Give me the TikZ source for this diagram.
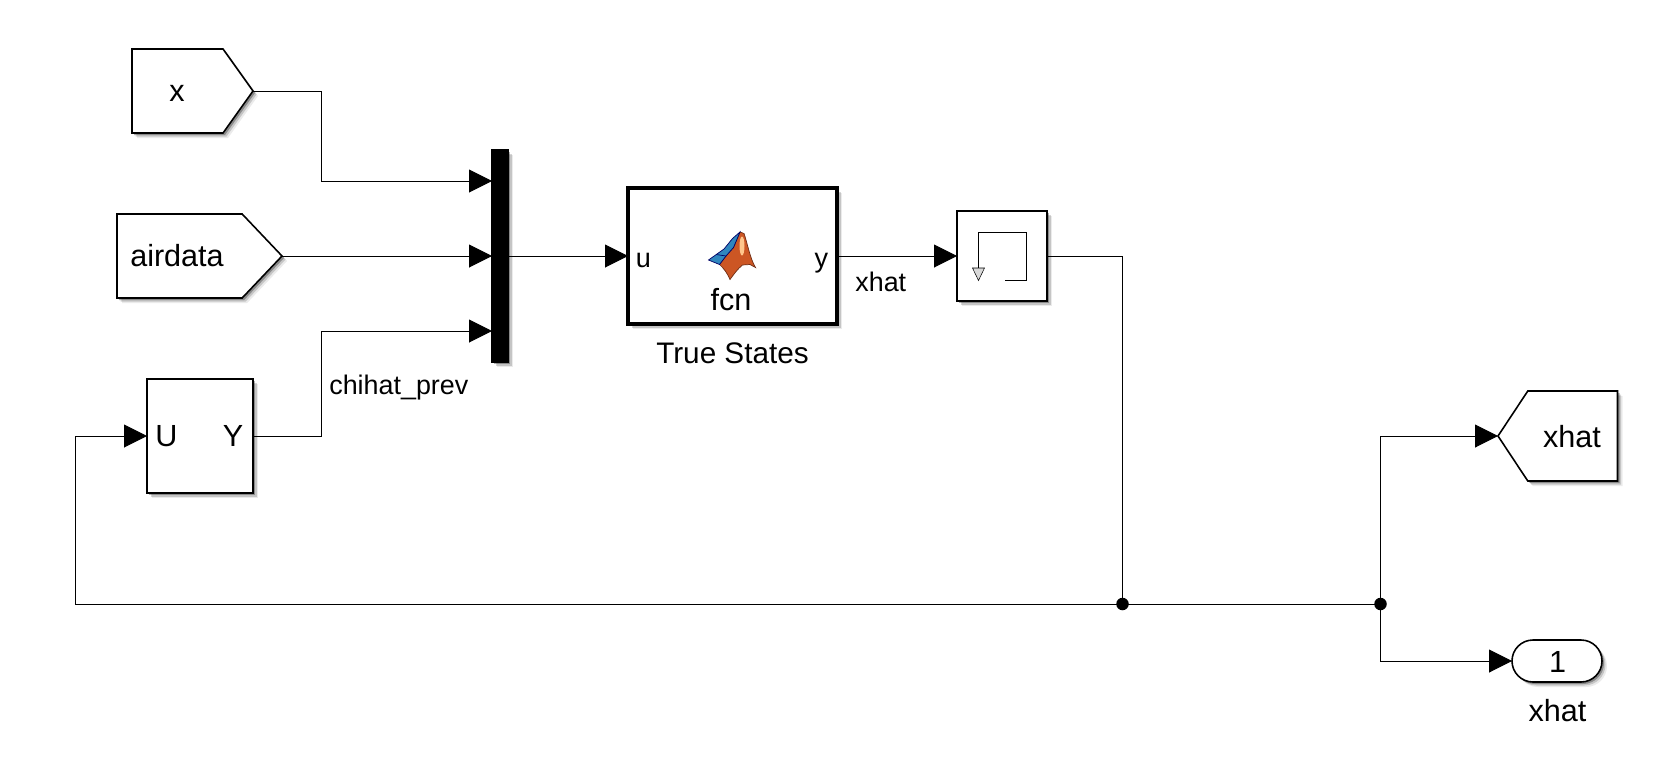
\documentclass[tikz,border=0pt]{standalone}
\usepackage{fontspec}
\setmainfont{Liberation Sans}
\usetikzlibrary{arrows.meta}
\usetikzlibrary{shadows}
\usetikzlibrary{shapes.symbols}
\usetikzlibrary{shapes.misc}

\definecolor{logoblue}{RGB}{48,134,190}
\definecolor{logoorange}{RGB}{204,86,36}
\definecolor{logodark}{RGB}{110,45,20}

\tikzset{
    softshadow/.style={general shadow={shadow xshift=.1cm,shadow yshift=-.1cm,fill=black,opacity=.08},
                       general shadow={shadow xshift=.07cm,shadow yshift=-.07cm,fill=black,opacity=.16},
                       general shadow={shadow xshift=.04cm,shadow yshift=-.04cm,fill=black,opacity=.3}},
    wire/.style={black,line width=.55pt},
    arrowwire/.style={wire,-{Triangle[length=.46cm,width=.46cm]}},
    simblock/.style={draw=black,line width=.9pt,fill=white,minimum width=#1,inner sep=0pt,outer sep=0pt,softshadow},
    gotoblock/.style={draw=black,line width=.9pt,fill=white,shape=signal,inner sep=0pt,outer sep=0pt,signal from=nowhere,softshadow},
    blocktext/.style={font=\fontsize{17.4}{20}\selectfont,inner sep=0pt,anchor=base},
    smalltext/.style={font=\fontsize{15.3}{18}\selectfont,inner sep=0pt,anchor=base west},
    junction/.style={circle,fill=black,minimum size=.25cm,inner sep=0pt},
}

\begin{document}
\begin{tikzpicture}
    \useasboundingbox (0,.02) rectangle (33.42,-15.36);

    % tags on the left
    \node[gotoblock,anchor=east,signal to=east,signal pointer angle=109,minimum width=2.42cm,minimum height=1.68cm] (xtag) at (5.06,-1.8) {};
    \node[blocktext] (xtext) at (3.54,-2.01) {x};
    \node[gotoblock,anchor=east,signal to=east,signal pointer angle=93,minimum width=3.3cm,minimum height=1.68cm] (airtag) at (5.64,-5.1) {};
    \node[blocktext] (airtext) at (3.54,-5.31) {airdata};

    % memory block
    \node[simblock=2.12cm,minimum height=2.28cm] (mem) at (4,-8.7) {};
    \node[blocktext] (memu) at (3.33,-8.9) {U};
    \node[blocktext] (memy) at (4.66,-8.9) {Y};

    % mux
    \node[simblock=.32cm,minimum height=4.24cm,fill=black] (mux) at (10,-5.1) {};
    \coordinate (muxa) at (9.84,-3.6);
    \coordinate (muxb) at (9.84,-5.1);
    \coordinate (muxc) at (9.84,-6.6);

    % function block
    \node[simblock=4.18cm,minimum height=2.72cm,line width=2.1pt] (fcn) at (14.65,-5.1) {};
    \node[blocktext,font=\fontsize{15.4}{18}\selectfont] (fcnu) at (12.87,-5.32) {u};
    \node[blocktext,font=\fontsize{15.4}{18}\selectfont] (fcny) at (16.43,-5.32) {y};
    \node[blocktext] (fcnname) at (14.62,-6.18) {fcn};
    \node[blocktext,font=\fontsize{16.9}{20}\selectfont] (fcntitle) at (14.65,-7.25) {True States};

    % matlab logo
    \fill[logoorange,draw=logodark,line width=.4pt] (14.8,-4.62) -- (14.88,-4.65) .. controls (14.95,-4.85) and (15.0,-5.15) .. (15.11,-5.33) -- (15.0,-5.27) -- (14.85,-5.28) .. controls (14.75,-5.36) and (14.68,-5.46) .. (14.6,-5.57) .. controls (14.55,-5.45) and (14.48,-5.35) .. (14.39,-5.27) -- (14.52,-5.1) -- (14.67,-4.93) -- cycle;
    \fill[orange!45!white] (14.84,-4.9) ellipse [x radius=.05,y radius=.19];
    \fill[logoblue,draw=blue!40!black,line width=.4pt] (14.17,-5.18) -- (14.48,-4.96) -- (14.65,-4.75) -- (14.8,-4.62) -- (14.67,-4.93) -- (14.52,-5.1) -- (14.39,-5.27) -- cycle;
    \draw[blue!40!black,line width=.4pt] (14.32,-5.07) -- (14.52,-5.1);

    % delay block
    \node[simblock=1.8cm,minimum height=1.8cm] (delay) at (20.04,-5.1) {};
    \coordinate (delayin) at (19.57,-5.34);
    \coordinate (delayend) at (20.1,-5.59);
    \draw[wire] (delayin) |- (20.53,-4.63) |- (delayend);
    \draw[black,fill=black!15,line width=.3pt] (19.45,-5.34) -- (19.69,-5.34) -- (19.57,-5.59) -- cycle;

    % outputs
    \node[gotoblock,anchor=west,signal to=west,signal pointer angle=113,minimum width=2.39cm,minimum height=1.8cm] (xhattag) at (29.96,-8.7) {};
    \node[blocktext] (xhattext) at (31.44,-8.92) {xhat};
    \node[simblock=1.8cm,minimum height=.84cm,rounded rectangle] (outport) at (31.14,-13.2) {};
    \node[blocktext] (outnum) at (31.15,-13.42) {1};
    \node[blocktext] (outname) at (31.15,-14.4) {xhat};

    % junctions
    \node[junction] (joina) at (22.45,-12.06) {};
    \node[junction] (joinb) at (27.61,-12.06) {};
    \coordinate (loopcorner) at (1.5,-12.06);

    % lines into mux
    \draw[arrowwire] (xtag.east) -- ++(1.36,0) |- (muxa);
    \draw[arrowwire] (airtag.east) -- (muxb);
    \draw[arrowwire] (mem.east) -- ++(1.36,0) |- (muxc);
    \draw[arrowwire] (mux.east) -- (fcn.west);
    \draw[arrowwire] (fcn.east) -- (delay.west);
    \node[smalltext] (xhatlabel) at (17.1,-5.8) {xhat};
    \node[smalltext] (chilabel) at (6.58,-7.86) {chihat\_prev};

    % feedback
    \draw[wire] (delay.east) -| (joina.center);
    \draw[wire] (joina.center) -- (joinb.center);
    \draw[arrowwire] (joina.center) -- (loopcorner) |- (mem.west);
    \draw[arrowwire] (joinb.center) |- (xhattag.west);
    \draw[arrowwire] (joinb.center) |- (outport.west);
\end{tikzpicture}
\end{document}
